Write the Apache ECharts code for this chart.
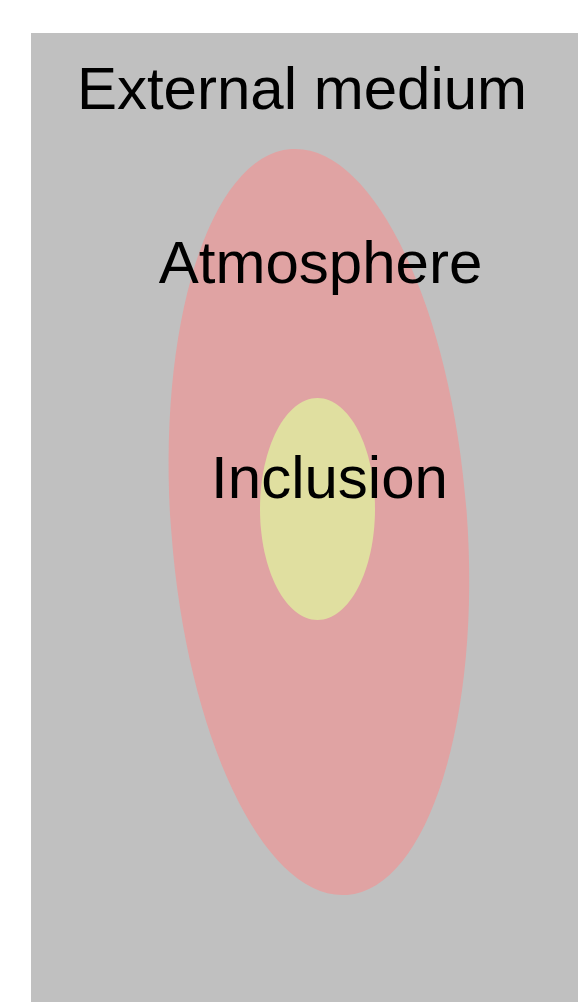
<!DOCTYPE html>
<html>
<head>
<meta charset="utf-8">
<script src="https://cdn.jsdelivr.net/npm/echarts@6/dist/echarts.min.js"></script>
<style>html,body{margin:0;padding:0;background:#fff;}#c{width:578px;height:1002px;}</style>
</head>
<body>
<div id="c"></div>
<script>
// Region names
const regionNames = ['Atmosphere', 'Inclusion'];
// Ellipse centres (data units), semi-axes, rotation in degrees
const centerX = [288, 286.5];
const centerY = [480, 493];
const radiusX = [148, 57.5];
const radiusY = [374, 111];
const rotationDeg = [4.3, 0];
const fillColors = ['#e0a3a3', '#e0dfa0'];

// Text annotations
const labelTexts = ['External medium', 'Atmosphere', 'Inclusion'];
const labelX = [271, 289.5, 298.5];
const labelY = [910, 736, 521];

// Axis extents (data units)
const xExtent = [0, 547];
const yExtent = [0, 969];

const ellipseData = regionNames.map((n, i) => ({
  name: n,
  value: [centerX[i], centerY[i], radiusX[i], radiusY[i], rotationDeg[i]],
  itemStyle: { color: fillColors[i] }
}));
const textData = labelTexts.map((t, i) => ({ name: t, value: [labelX[i], labelY[i]] }));

const chart = echarts.init(document.getElementById('c'), null, { renderer: 'canvas' });
chart.setOption({
  animation: false,
  backgroundColor: '#ffffff',
  grid: { left: 31, top: 33, right: 0, bottom: 0, show: true, backgroundColor: '#c0c0c0', borderWidth: 0 },
  xAxis: { type: 'value', min: xExtent[0], max: xExtent[1], show: false },
  yAxis: { type: 'value', min: yExtent[0], max: yExtent[1], show: false },
  series: [
    {
      type: 'custom',
      coordinateSystem: 'cartesian2d',
      data: ellipseData,
      z: 2,
      renderItem: function (params, api) {
        const c = api.coord([api.value(0), api.value(1)]);
        const s = api.size([api.value(2), api.value(3)]);
        return {
          type: 'ellipse',
          x: c[0], y: c[1],
          rotation: api.value(4) * Math.PI / 180,
          shape: { cx: 0, cy: 0, rx: s[0], ry: s[1] },
          style: { fill: api.visual('color') }
        };
      }
    },
    {
      type: 'custom',
      coordinateSystem: 'cartesian2d',
      data: textData,
      z: 5,
      renderItem: function (params, api) {
        const c = api.coord([api.value(0), api.value(1)]);
        return {
          type: 'text',
          x: c[0], y: c[1],
          style: {
            text: labelTexts[params.dataIndex],
            font: '60px "Liberation Sans", Arial, sans-serif',
            fill: '#000000',
            align: 'center',
            verticalAlign: 'middle'
          }
        };
      }
    }
  ]
});
</script>
</body>
</html>
